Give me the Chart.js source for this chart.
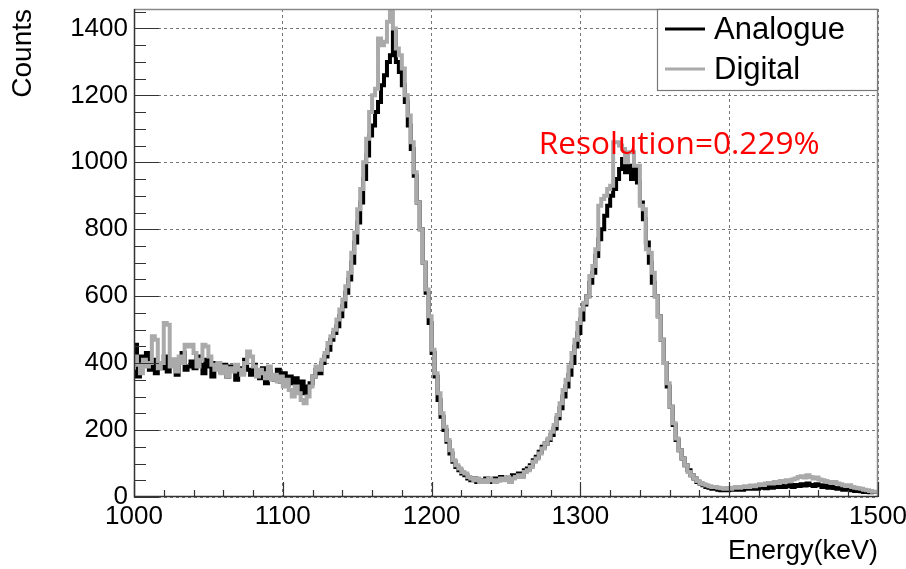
<!DOCTYPE html>
<html><head><meta charset="utf-8">
<script src="https://cdn.jsdelivr.net/npm/chart.js@4.4.0/dist/chart.umd.min.js"></script>
<style>html,body{margin:0;padding:0;background:#fff}#wrap{width:906px;height:569px;position:relative}</style>
</head><body><div id="wrap"><canvas id="c" width="906" height="569"></canvas></div>
<script>
// Histogram bin low edges (keV), 2 keV bins
const binEdges = [
1000,1002,1004,1006,1008,1010,1012,1014,1016,1018,
1020,1022,1024,1026,1028,1030,1032,1034,1036,1038,
1040,1042,1044,1046,1048,1050,1052,1054,1056,1058,
1060,1062,1064,1066,1068,1070,1072,1074,1076,1078,
1080,1082,1084,1086,1088,1090,1092,1094,1096,1098,
1100,1102,1104,1106,1108,1110,1112,1114,1116,1118,
1120,1122,1124,1126,1128,1130,1132,1134,1136,1138,
1140,1142,1144,1146,1148,1150,1152,1154,1156,1158,
1160,1162,1164,1166,1168,1170,1172,1174,1176,1178,
1180,1182,1184,1186,1188,1190,1192,1194,1196,1198,
1200,1202,1204,1206,1208,1210,1212,1214,1216,1218,
1220,1222,1224,1226,1228,1230,1232,1234,1236,1238,
1240,1242,1244,1246,1248,1250,1252,1254,1256,1258,
1260,1262,1264,1266,1268,1270,1272,1274,1276,1278,
1280,1282,1284,1286,1288,1290,1292,1294,1296,1298,
1300,1302,1304,1306,1308,1310,1312,1314,1316,1318,
1320,1322,1324,1326,1328,1330,1332,1334,1336,1338,
1340,1342,1344,1346,1348,1350,1352,1354,1356,1358,
1360,1362,1364,1366,1368,1370,1372,1374,1376,1378,
1380,1382,1384,1386,1388,1390,1392,1394,1396,1398,
1400,1402,1404,1406,1408,1410,1412,1414,1416,1418,
1420,1422,1424,1426,1428,1430,1432,1434,1436,1438,
1440,1442,1444,1446,1448,1450,1452,1454,1456,1458,
1460,1462,1464,1466,1468,1470,1472,1474,1476,1478,
1480,1482,1484,1486,1488,1490,1492,1494,1496,1498];
const lastEdge = 1500;

const analogue = [
440,455,360,420,395,430,380,410,370,400,
385,420,375,395,410,365,400,430,380,390,
405,385,420,395,370,410,390,360,400,385,
375,395,360,390,380,350,385,370,410,380,
365,395,370,355,385,340,375,360,350,380,
345,370,335,360,340,355,320,345,310,330,
340,360,380,370,400,420,440,470,490,510,
540,570,610,650,700,760,820,880,950,1020,
1080,1110,1150,1180,1230,1260,1300,1320,1390,1300,
1270,1230,1180,1110,1040,960,880,800,700,610,
520,430,360,290,240,200,165,130,105,90,
80,70,65,55,50,55,45,50,45,55,
50,45,55,50,60,55,60,50,65,60,
70,65,80,85,95,110,120,135,150,160,
170,185,205,235,265,300,330,365,400,450,
490,530,575,600,640,670,720,770,800,840,
870,900,920,950,980,1010,970,990,950,980,
940,880,830,760,700,640,600,540,470,400,
330,270,215,170,140,115,95,80,65,55,
45,40,35,30,28,25,25,22,20,22,
20,22,25,22,25,22,25,28,25,27,
25,28,30,26,30,28,32,30,35,30,
32,35,30,36,33,38,34,40,36,33,
38,35,30,34,28,32,27,25,28,22,
25,22,20,18,20,17,15,16,14,15];

const digital = [
380,420,395,370,410,390,400,480,470,385,
400,520,515,390,410,375,420,400,455,450,
455,430,390,410,455,450,420,395,380,400,
370,390,360,385,375,395,380,365,400,435,
420,390,360,380,370,355,390,350,365,345,
360,330,350,320,300,330,310,290,280,300,
330,360,390,380,410,430,460,480,500,530,
560,590,630,670,730,790,860,920,1000,1070,
1150,1200,1220,1370,1350,1360,1420,1460,1400,1340,
1320,1280,1200,1140,1060,970,880,800,700,620,
540,440,370,310,250,210,170,140,110,95,
85,75,70,60,55,50,55,45,50,45,
55,50,45,50,55,50,60,45,55,60,
65,60,75,80,90,105,115,130,145,160,
175,195,215,245,280,320,350,390,430,470,
520,560,580,600,660,690,740,870,890,900,
920,930,1060,1060,1050,1040,1000,1030,1030,990,
990,870,860,740,730,670,600,540,470,400,
340,270,220,175,140,115,95,75,65,55,
48,42,38,35,32,30,30,28,26,25,
27,25,28,30,28,30,32,30,34,32,
35,38,36,40,42,40,45,42,48,45,
50,48,52,55,60,62,58,65,60,55,
58,52,50,48,45,42,45,40,38,35,
33,35,30,28,26,25,22,20,18,16];

const seriesNames = ['Analogue', 'Digital'];
const seriesColors = ['#000000', '#aaaaaa'];
const xRange = [1000, 1500];
const yRange = [0, 1458];
const xTitle = 'Energy(keV)';
const yTitle = 'Counts';
const annotationText = 'Resolution=0.229%';
const annotationAt = [1272, 1024]; // data coords of text left/baseline

function steps(values) {
  const pts = binEdges.map((e, i) => ({x: e, y: values[i]}));
  pts.push({x: lastEdge, y: values[values.length - 1]});
  return pts;
}

const FONT = "'Liberation Sans', Arial, Helvetica, sans-serif";

const decor = {
  id: 'decor',
  afterDatasetsDraw(chart) {
    const {ctx, chartArea: a, scales: {x, y}} = chart;
    ctx.save();
    // frame
    ctx.lineWidth = 1.5;
    ctx.strokeStyle = '#888';
    ctx.beginPath();
    ctx.moveTo(a.left, a.top + 0.5); ctx.lineTo(a.right - 0.5, a.top + 0.5); ctx.lineTo(a.right - 0.5, a.bottom);
    ctx.stroke();
    ctx.strokeStyle = '#333';
    ctx.lineWidth = 1.5;
    ctx.beginPath();
    ctx.moveTo(a.left + 0.5, a.top); ctx.lineTo(a.left + 0.5, a.bottom - 0.5); ctx.lineTo(a.right, a.bottom - 0.5);
    ctx.stroke();
    // ticks
    ctx.lineWidth = 1.2;
    ctx.strokeStyle = '#333';
    ctx.beginPath();
    for (let v = xRange[0]; v <= xRange[1]; v += 20) {
      const px = Math.round(x.getPixelForValue(v)) + 0.5;
      const len = (v % 100 === 0) ? 15 : 7;
      ctx.moveTo(px, a.bottom); ctx.lineTo(px, a.bottom - len);
    }
    for (let v = 0; v <= yRange[1]; v += 50) {
      const py = Math.round(y.getPixelForValue(v)) + 0.5;
      const len = (v % 200 === 0) ? 25 : 12;
      ctx.moveTo(a.left, py); ctx.lineTo(a.left + len, py);
    }
    ctx.stroke();
    ctx.restore();
  },
  afterDraw(chart) {
    const {ctx, chartArea: a, scales: {x, y}} = chart;
    ctx.save();
    // legend box
    const lx = 657, ly = a.top, lw = a.right - 657, lh = 82;
    ctx.fillStyle = '#fff';
    ctx.fillRect(lx, ly, lw, lh);
    ctx.strokeStyle = '#777';
    ctx.lineWidth = 1.2;
    ctx.strokeRect(lx + 0.5, ly + 0.5, lw - 1, lh - 1);
    ctx.font = '31px ' + FONT;
    ctx.textBaseline = 'middle';
    ctx.textAlign = 'left';
    const rows = [29, 69];
    seriesNames.forEach((n, i) => {
      ctx.strokeStyle = seriesColors[i];
      ctx.lineWidth = 3;
      ctx.beginPath();
      ctx.moveTo(665, rows[i]); ctx.lineTo(705, rows[i]);
      ctx.stroke();
      ctx.fillStyle = '#000';
      ctx.fillText(n, 714, rows[i] + 1);
    });
    // annotation
    ctx.fillStyle = '#ff0000';
    ctx.font = '28px "Open Sans", "Noto Sans", sans-serif';
    const w = ctx.measureText(annotationText).width;
    const size = 28 * 281 / w;
    ctx.font = size.toFixed(2) + 'px "Open Sans", "Noto Sans", sans-serif';
    ctx.textBaseline = 'alphabetic';
    ctx.fillText(annotationText, x.getPixelForValue(annotationAt[0]), y.getPixelForValue(annotationAt[1]));
    ctx.restore();
  }
};

new Chart(document.getElementById('c'), {
  type: 'line',
  data: {
    datasets: [
      {label: seriesNames[1], data: steps(digital), borderColor: seriesColors[1], borderWidth: 4,
       stepped: 'after', pointRadius: 0, fill: false, order: 0},
      {label: seriesNames[0], data: steps(analogue), borderColor: seriesColors[0], borderWidth: 4,
       stepped: 'after', pointRadius: 0, fill: false, order: 1}
    ]
  },
  options: {
    responsive: false,
    animation: false,
    layout: {padding: {left: 0, top: 9, right: 28, bottom: 0}},
    plugins: {legend: {display: false}, tooltip: {enabled: false}},
    scales: {
      x: {
        type: 'linear', min: xRange[0], max: xRange[1],
        afterFit(s) { s.height = 72; s.paddingLeft = 0; s.paddingRight = 0; },
        ticks: {stepSize: 100, maxRotation: 0, autoSkip: false, color: '#000', padding: 4,
                font: {family: FONT, size: 26}, callback: v => String(v)},
        grid: {color: '#777', lineWidth: 1, drawTicks: false},
        border: {display: false, dash: [3, 3]},
        title: {display: true, text: xTitle, align: 'end', color: '#000', font: {family: FONT, size: 27},
                padding: {top: 0, bottom: 1}}
      },
      y: {
        type: 'linear', min: yRange[0], max: yRange[1],
        afterFit(s) { s.width = 134; s.paddingTop = 0; s.paddingBottom = 0; },
        ticks: {stepSize: 200, includeBounds: false, color: '#000', padding: 6,
                font: {family: FONT, size: 26}, callback: v => String(v)},
        grid: {color: '#777', lineWidth: 1, drawTicks: false},
        border: {display: false, dash: [3, 3]},
        title: {display: true, text: yTitle, align: 'end', color: '#000', font: {family: FONT, size: 28},
                padding: {top: 6, bottom: 0}}
      }
    }
  },
  plugins: [decor]
});
</script>
</body></html>
